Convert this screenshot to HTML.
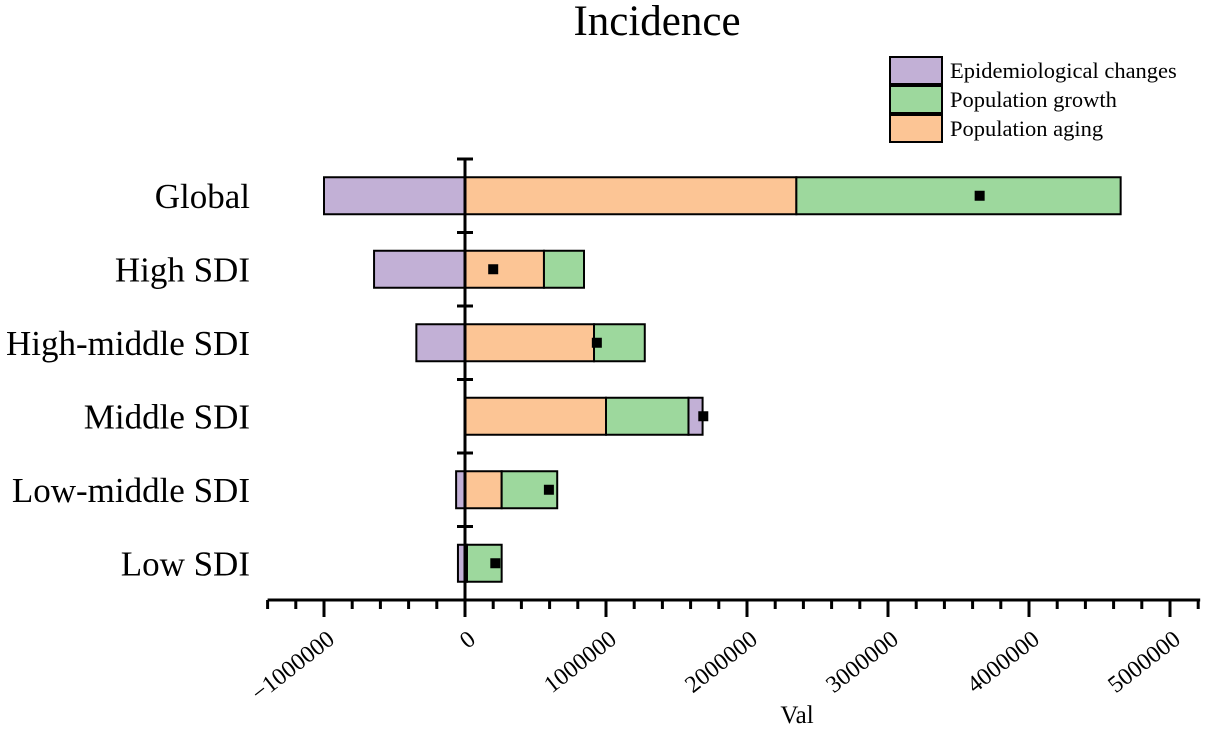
<!DOCTYPE html>
<html><head><meta charset="utf-8"><style>
body{margin:0;background:#fff}
svg{display:block;font-family:"Liberation Serif",serif}
</style></head><body>
<svg id="chart" width="1205" height="729">
<text x="657" y="35" font-size="43" text-anchor="middle">Incidence</text>
<g id="bars"></g>
<g id="axes"></g>
<g>
<rect x="890" y="57" width="52" height="27" fill="#c2b0d6" stroke="#000" stroke-width="2"/>
<text x="950" y="78" font-size="22.5">Epidemiological changes</text>
<rect x="890" y="86" width="52" height="27" fill="#9dd89d" stroke="#000" stroke-width="2"/>
<text x="950" y="107" font-size="22.5">Population growth</text>
<rect x="890" y="115" width="52" height="27" fill="#fcc595" stroke="#000" stroke-width="2"/>
<text x="950" y="136" font-size="22.5">Population aging</text>
</g>
<text x="797" y="723" font-size="25" text-anchor="middle">Val</text>
</svg>
<script>
const categories=["Global","High SDI","High-middle SDI","Middle SDI","Low-middle SDI","Low SDI"];
const epidemiological=[-1000000,-645000,-345000,100000,-63000,-50000];
const aging=[2350000,560000,915000,1000000,260000,14000];
const growth=[2300000,284000,360000,585000,394000,246000];
const overall=[3650000,200000,935000,1690000,595000,215000];
const xTicks=[-1000000,0,1000000,2000000,3000000,4000000,5000000];
const NS="http://www.w3.org/2000/svg";
const x0=465,scale=141/1000000,xMin=-1400000,xMax=5200000;
const yTop=159,yBot=600,band=(yBot-yTop)/categories.length,barH=37;
function X(v){return x0+v*scale;}
function Yc(i){return yTop+band*(i+0.5);}
function mk(tag,attrs,parent){const e=document.createElementNS(NS,tag);for(const k in attrs)e.setAttribute(k,attrs[k]);parent.appendChild(e);return e;}
const bars=document.getElementById('bars'),axes=document.getElementById('axes');
function seg(a,b,y,fill,parent){const l=Math.min(X(a),X(b)),w=Math.abs(X(b)-X(a));return mk('rect',{x:l,y:y-barH/2,width:w,height:barH,fill:fill,stroke:'#000','stroke-width':2},parent);}
categories.forEach((c,i)=>{
 const y=Yc(i);
 const g=mk('g',{},bars);
 
 
 let pos=0;
 let r;
 r=seg(0,aging[i],y,'#fcc595',g);pos=aging[i];
 
 
 r=seg(pos,pos+growth[i],y,'#9dd89d',g);pos+=growth[i];
 
 
 const e=epidemiological[i];
 if(e>=0){r=seg(pos,pos+e,y,'#c2b0d6',g);}else{r=seg(0,e,y,'#c2b0d6',g);}
 
 
 const m=mk('rect',{x:X(overall[i])-5,y:y-5,width:10,height:10,fill:'#000'},g);
 
 
 const t=mk('text',{x:250,y:y+12,'font-size':35,'text-anchor':'end'},axes);
 t.textContent=c;
 
 
});
const ya=mk('line',{x1:x0,y1:yTop,x2:x0,y2:yBot,stroke:'#000','stroke-width':3},axes);


for(let k=0;k<=categories.length;k++){const yy=yTop+band*k;mk('line',{x1:x0-8,y1:yy,x2:x0+8,y2:yy,stroke:'#000','stroke-width':3},axes);}
const xa=mk('line',{x1:X(xMin),y1:yBot,x2:X(xMax)+2,y2:yBot,stroke:'#000','stroke-width':3},axes);


for(let v=xMin;v<=xMax;v+=200000){const major=Math.abs(v%1000000)<1;mk('line',{x1:X(v),y1:yBot,x2:X(v),y2:yBot+(major?17:9),stroke:'#000','stroke-width':3},axes);}
xTicks.forEach(v=>{
 const t=mk('text',{'font-size':24,'text-anchor':'end',transform:`translate(${X(v)+12},642) rotate(-38)`},axes);
 t.textContent=v<0?'\u2212'+Math.abs(v):String(v);
 
 
});
</script>
</body></html>
